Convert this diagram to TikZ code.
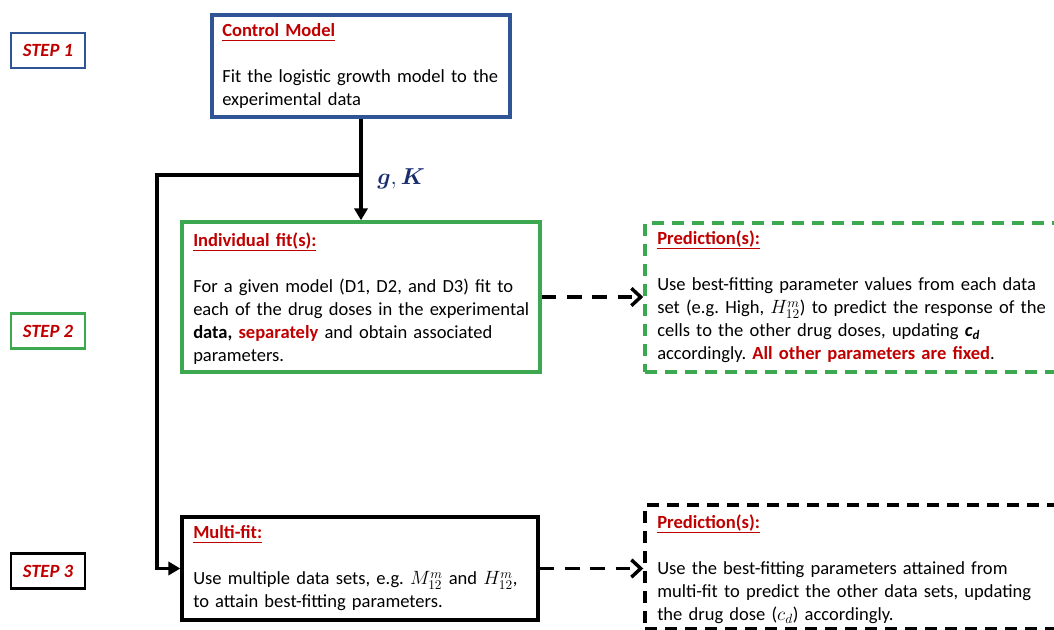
\documentclass[tikz,border=0pt]{standalone}
\usepackage{fontspec}
\setmainfont{Carlito}
\usepackage{bm}
\usetikzlibrary{arrows.meta,fit}
\frenchspacing

\definecolor{stepblue}{RGB}{47,85,151}
\definecolor{stepgreen}{RGB}{60,168,80}
\definecolor{titlered}{RGB}{192,0,0}
\definecolor{navy}{RGB}{25,45,110}

% bold red heading with a rule at a fixed depth below the baseline
\newsavebox{\titlebox}
\newcommand{\boxtitle}[1]{\sbox{\titlebox}{\color{titlered}\textbf{#1}}%
  \usebox{\titlebox}\llap{\textcolor{titlered}{\rule[-3.2pt]{\wd\titlebox}{0.8pt}}}}
\newcommand{\hl}[1]{\textcolor{titlered}{\textbf{#1}}}

\begin{document}
\begin{tikzpicture}[x=0.75pt,y=-0.75pt,
  bodyfont/.style={font=\fontsize{13.9}{17.25}\selectfont},
  panel/.style={line width=2.6pt, inner sep=0pt},
  dashpanel/.style={panel, dash pattern=on 9pt off 6pt},
  steplabel/.style={draw, line width=2.1pt, minimum width=55.5pt, minimum height=26.25pt,
    inner sep=0pt, text=titlered, font=\fontsize{14}{17}\selectfont\bfseries\itshape},
  boxtext/.style={bodyfont, anchor=base west, inner sep=0pt, text width=330pt, align=left},
  conn/.style={line width=2.6pt},
  solidarrow/.style={conn, -{Triangle[length=9pt,width=10pt]}},
  dasharrow/.style={conn, dash pattern=on 11pt off 8pt,
    -{Straight Barb[length=7pt,width=13pt,line width=2.6pt]}}
]
\clip (0,0) rectangle (1054,630);
\fill[white] (0,0) rectangle (1054,630);

% step markers on the left
\node[steplabel, draw=stepblue]  (s1) at (48,50.5) {STEP 1};
\node[steplabel, draw=stepgreen] (s2) at (48,331)  {STEP 2};
\node[steplabel, draw=black]     (s3) at (48,571)  {STEP 3};

% panels
\node[panel, draw=stepblue,  fit={(212,15) (510,117)}]   (ctrl)  {};
\node[panel, draw=stepgreen, fit={(182,222) (540,372)}]  (ind)   {};
\node[dashpanel, draw=stepgreen, fit={(645,223) (1080,372)}] (pred1) {};
\node[panel, draw=black,     fit={(182,517) (538,620)}]  (multi) {};
\node[dashpanel, draw=black, fit={(645,505) (1080,629)}] (pred2) {};

% panel texts
\node[boxtext] (ctrltxt) at (222,37)
  {\boxtitle{Control Model}\\[17.25pt]
   Fit the logistic growth model to the\\
   experimental data};

\node[boxtext] (indtxt) at (193,247)
  {\boxtitle{Individual fit(s):}\\[17.25pt]
   For a given model (D1, D2, and D3) fit to\\
   each of the drug doses in the experimental\\
   \textbf{data,} \hl{separately} and obtain associated\\
   parameters.};

\node[boxtext] (pred1txt) at (657,245)
  {\boxtitle{Prediction(s):}\\[17.25pt]
   Use best-fitting parameter values from each data\\
   set (e.g. High, $H^{m}_{12}$) to predict the response of the\\
   cells to the other drug doses, updating \textbf{\textit{c}\textsubscript{\textit{d}}}\\
   accordingly. \hl{All other parameters are fixed}.};

\node[boxtext] (multitxt) at (193,539)
  {\boxtitle{Multi-fit:}\\[17.25pt]
   Use multiple data sets, e.g. $M^{m}_{12}$ and $H^{m}_{12}$,\\
   to attain best-fitting parameters.};

\node[boxtext] (pred2txt) at (657,529)
  {\boxtitle{Prediction(s):}\\[17.25pt]
   Use the best-fitting parameters attained from\\
   multi-fit to predict the other data sets, updating\\
   the drug dose ($c_{d}$) accordingly.};

% connectors
\coordinate (split) at (ctrl.south |- 0,175);
\coordinate (bend) at (157,175);
\draw[solidarrow] (ctrl.south) -- (ind.north);
\draw[solidarrow] (split) -- (bend) |- (multi.west);
\node[anchor=base west, inner sep=0pt, text=navy, font=\fontsize{16.5}{20}\selectfont]
  (gk) at (377,185) {$\bm{g},\bm{K}$};

\draw[dasharrow] (ind.east) -- (ind.east -| pred1.west);
\draw[dasharrow] (multi.east) -- (multi.east -| pred2.west);
\end{tikzpicture}
\end{document}
